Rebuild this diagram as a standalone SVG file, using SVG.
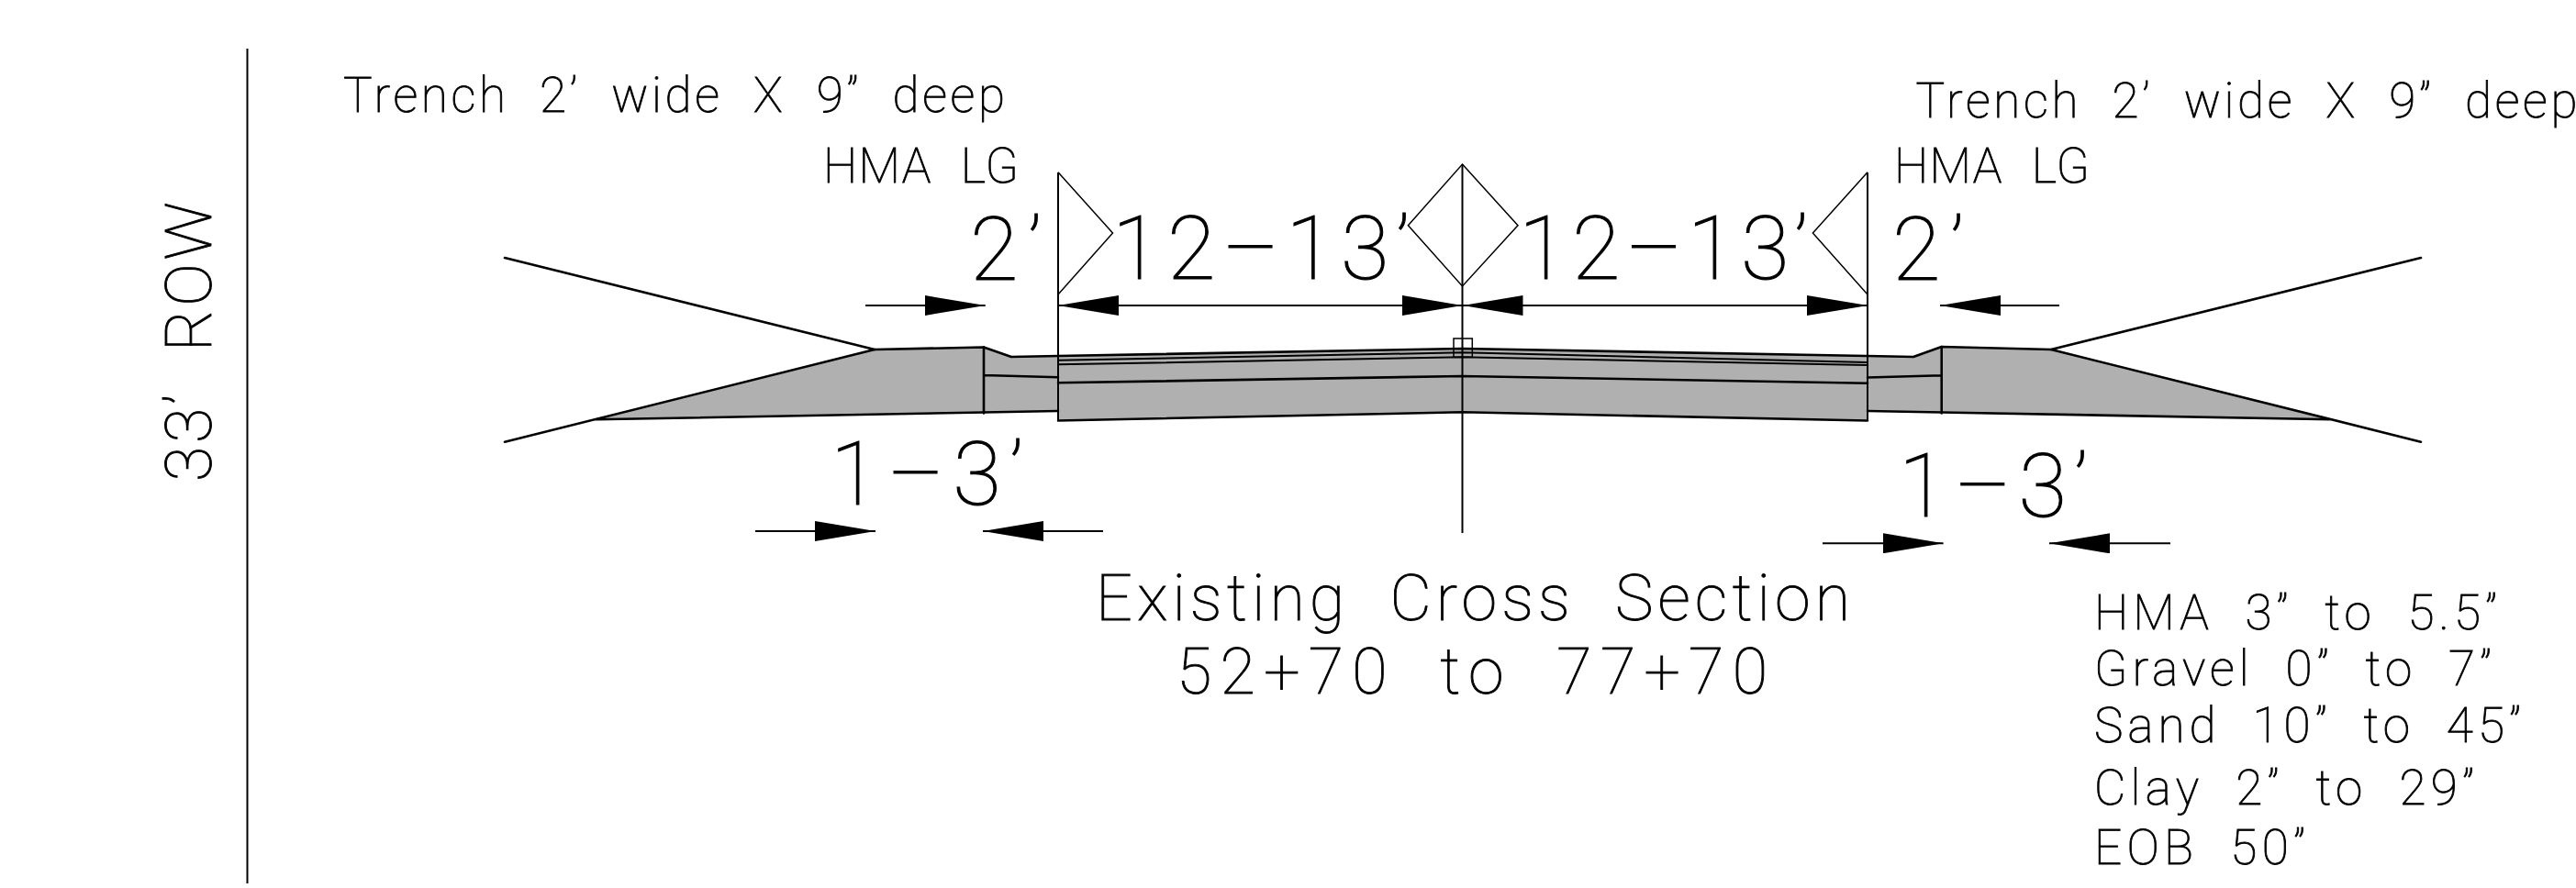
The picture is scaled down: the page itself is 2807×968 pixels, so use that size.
<svg xmlns="http://www.w3.org/2000/svg" width="2807" height="968" viewBox="0 0 2807 968">
<defs>
<marker id="ah" markerUnits="userSpaceOnUse" markerWidth="66" markerHeight="22" refX="66" refY="11" viewBox="0 0 66 22" orient="auto-start-reverse"><path d="M0 0L66 11L0 22Z" fill="#000"/></marker>
</defs>
<style>
text{font-family:Roboto,"Liberation Sans",sans-serif;font-weight:100;fill:#000;stroke:#000;stroke-width:.9}
.s{font-size:53px;word-spacing:.32em}.m{font-size:70px;word-spacing:.32em}.l{font-size:96px;stroke-width:1.1}
.h{fill:none;stroke:#000;stroke-width:2.6;stroke-linecap:round;stroke-linejoin:round}
.t{fill:none;stroke:#000;stroke-width:1.5}
.d{fill:none;stroke:#000;stroke-width:2}
</style>
<rect width="2807" height="968" fill="#fff"/>
<g id="section">
<path d="M649.6 457.3L953 381L1072 378.5L1102 389L1153 388L1593.5 380L2035 388L2085 389L2115.7 378L2235 381L2540 457.3L2115.7 449.5L2035 448V458.5L1593.5 449.3L1153 458.5V448L1072 449.5Z" fill="#b0b0b0"/>
<path class="h" d="M550 281L953 381L1072 378.5L1102 389L1153 388L1593.5 380L2035 388L2085 389L2115.7 378L2235 381L2638 281"/>
<path class="h" d="M550 481.7L953 381M649.6 457.3L1072 449.5L1153 448M1153 458.5L1593.5 449.3L2035 458.5M2035 448L2115.7 449.5L2540 457.3M2235 381L2638 481.7"/>
<path class="h" d="M1072 378.5V450.5M2115.7 378V450.5M1072 409L1153 411.3M1153 417.3L1593.5 410L2035 417.7M2035 411.5L2115.7 409.3"/>
<path class="d" d="M1153 392.7L1593.5 384.3L2035 395M1153 397.3L1593.5 389.3L2035 398"/>
<rect class="t" x="1584" y="369" width="20.3" height="20.3"/>
</g>
<g id="connectors">
<path class="d" d="M269.5 53V963M1593.5 179V581M1153 188V458.5M2035 188V458.5"/>
<path class="t" d="M1153 187.7L1212.5 254L1153 321M1593.5 179L1654 245.7L1593.5 312L1534.4 245.7ZM2035 187.7L1975.4 254L2035 321"/>
<line class="d" x1="1153" y1="333" x2="1593.5" y2="333" marker-start="url(#ah)" marker-end="url(#ah)"/>
<line class="d" x1="1593.5" y1="333" x2="2035" y2="333" marker-start="url(#ah)" marker-end="url(#ah)"/>
<line class="d" x1="943" y1="333" x2="1073.7" y2="333" marker-end="url(#ah)"/>
<line class="d" x1="2244" y1="333" x2="2114" y2="333" marker-end="url(#ah)"/>
<line class="d" x1="823" y1="579" x2="954" y2="579" marker-end="url(#ah)"/>
<line class="d" x1="1202" y1="579" x2="1071" y2="579" marker-end="url(#ah)"/>
<line class="d" x1="1986" y1="592.3" x2="2117.6" y2="592.3" marker-end="url(#ah)"/>
<line class="d" x1="2365" y1="592.3" x2="2233" y2="592.3" marker-end="url(#ah)"/>
</g>
<g id="labels">
<text class="m" transform="translate(230 525) rotate(-90)" textLength="305">33’ ROW</text>
<text class="s" x="374" y="121.7" textLength="721">Trench 2’ wide X 9” deep</text>
<text class="s" x="2087.5" y="128" textLength="721">Trench 2’ wide X 9” deep</text>
<text class="s" x="897" y="199" textLength="213">HMA LG</text>
<text class="s" x="2064" y="199" textLength="213">HMA LG</text>
<text class="l" x="1057" y="305" textLength="78">2’</text>
<text class="l" x="2062" y="305" textLength="78">2’</text>
<text class="l" x="1212" y="304" textLength="324">12–13’</text>
<text class="l" x="1655" y="304" textLength="315">12–13’</text>
<text class="l" x="905" y="550" textLength="210">1–3’</text>
<text class="l" x="2069" y="562.7" textLength="206">1–3’</text>
<text class="m" x="1194" y="676" textLength="822">Existing Cross Section</text>
<text class="m" x="1282" y="756" textLength="644">52+70 to 77+70</text>
<text class="s" x="2282" y="685.7" textLength="439">HMA 3” to 5.5”</text>
<text class="s" x="2282" y="747.3" textLength="433">Gravel 0” to 7”</text>
<text class="s" x="2282" y="809.3" textLength="465">Sand 10” to 45”</text>
<text class="s" x="2282" y="876.7" textLength="414">Clay 2” to 29”</text>
<text class="s" x="2282" y="941.7" textLength="230">EOB 50”</text>
</g>
</svg>
